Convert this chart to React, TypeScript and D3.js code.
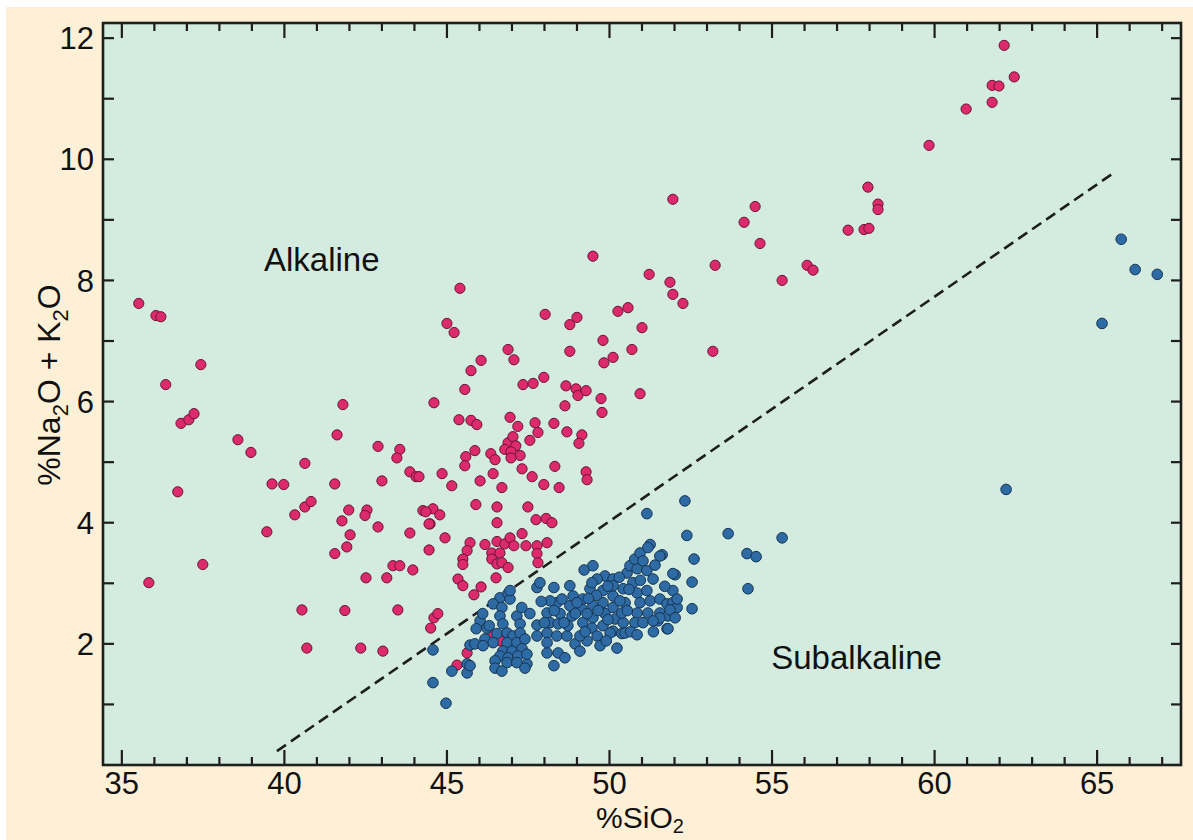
import React, { useRef, useEffect } from 'react';
import * as d3 from 'd3';

// %SiO2 vs %Na2O + K2O
const alkaline: [number, number][] = [
  [62.14, 11.88], [62.45, 11.36], [61.77, 11.22], [61.98, 11.21], [61.77, 10.94], [60.97, 10.83], [59.83, 10.23],
  [51.95, 9.34], [54.48, 9.22], [54.14, 8.96], [54.63, 8.61], [53.25, 8.25], [51.22, 8.1], [51.86, 7.97],
  [51.95, 7.77], [52.26, 7.62], [55.31, 8.0], [56.08, 8.25], [56.26, 8.17], [57.34, 8.83], [57.83, 8.84],
  [57.98, 8.86], [57.95, 9.54], [58.26, 9.26], [58.26, 9.17], [51.0, 7.22], [53.18, 6.83], [50.94, 6.13],
  [49.49, 8.4], [45.4, 7.87], [48.02, 7.44], [48.78, 7.27], [49.0, 7.39], [50.26, 7.49], [50.57, 7.55],
  [45.0, 7.29], [45.22, 7.14], [46.88, 6.86], [47.06, 6.69], [46.05, 6.68], [45.74, 6.51], [48.78, 6.83],
  [49.8, 7.01], [50.11, 6.73], [49.83, 6.64], [50.69, 6.86], [47.34, 6.28], [47.65, 6.3], [47.98, 6.4],
  [48.66, 6.26], [48.97, 6.21], [49.03, 6.1], [49.28, 6.18], [49.74, 6.05], [49.77, 5.82], [48.63, 5.93],
  [44.6, 5.98], [45.55, 6.2], [45.37, 5.7], [45.74, 5.69], [45.92, 5.62], [46.94, 5.74], [47.18, 5.59],
  [47.71, 5.65], [47.8, 5.49], [48.29, 5.64], [48.69, 5.5], [49.15, 5.45], [49.06, 5.31], [47.55, 5.36],
  [46.88, 5.32], [47.03, 5.42], [47.12, 5.27], [46.78, 5.21], [46.97, 5.17], [47.25, 5.11], [46.97, 5.07],
  [45.86, 5.19], [45.58, 5.09], [45.55, 4.94], [46.35, 5.14], [46.48, 5.04], [44.85, 4.81], [43.86, 4.84],
  [44.05, 4.76], [43.55, 5.21], [43.46, 5.07], [43.0, 4.69], [46.02, 4.69], [46.42, 4.81], [47.31, 4.89],
  [47.62, 4.76], [46.69, 4.58], [47.98, 4.63], [48.32, 4.93], [48.45, 4.58], [49.28, 4.84], [49.31, 4.71],
  [45.15, 4.61], [45.89, 4.3], [46.54, 4.26], [47.49, 4.26], [44.26, 4.2], [44.57, 4.23], [44.78, 4.13],
  [44.48, 3.98], [46.54, 4.0], [47.74, 4.05], [48.05, 4.07], [48.23, 4.0], [43.86, 3.83], [44.94, 3.75],
  [47.31, 3.82], [45.71, 3.67], [46.17, 3.64], [46.54, 3.69], [46.78, 3.65], [46.94, 3.75], [47.06, 3.62],
  [47.43, 3.62], [47.77, 3.62], [48.08, 3.67], [44.45, 3.55], [45.62, 3.54], [45.49, 3.4], [45.49, 3.31],
  [46.38, 3.5], [46.63, 3.5], [46.38, 3.4], [46.54, 3.32], [46.69, 3.34], [46.88, 3.26], [47.77, 3.49],
  [47.8, 3.34], [45.34, 3.07], [45.49, 2.96], [46.05, 2.94], [45.83, 2.81], [46.51, 3.09], [44.6, 2.43],
  [44.72, 2.5], [44.5, 2.26], [46.42, 2.15], [46.63, 2.05], [45.62, 1.85], [45.31, 1.65],
  [35.52, 7.62], [36.05, 7.42], [36.2, 7.4], [37.43, 6.61], [36.35, 6.28], [36.82, 5.64], [37.06, 5.7],
  [37.22, 5.8], [38.57, 5.37], [38.97, 5.16], [40.63, 4.98], [39.62, 4.64], [39.98, 4.63], [41.55, 4.64],
  [41.8, 5.95], [41.62, 5.45], [42.88, 5.26], [36.72, 4.51], [40.63, 4.26], [40.82, 4.35], [40.32, 4.13],
  [39.46, 3.85], [41.98, 4.21], [42.54, 4.21], [42.48, 4.12], [41.77, 4.03], [42.02, 3.8], [41.92, 3.6],
  [41.55, 3.49], [42.88, 3.93], [43.34, 3.29], [43.55, 3.29], [42.51, 3.09], [43.15, 3.09], [43.95, 3.22],
  [37.49, 3.31], [35.83, 3.01], [40.54, 2.56], [41.86, 2.55], [43.49, 2.56], [40.69, 1.93], [42.35, 1.93],
  [43.03, 1.88], [44.35, 4.18], [44.45, 3.98], [44.14, 4.76],
];

const subalkaline: [number, number][] = [
  [65.74, 8.68], [66.17, 8.18], [66.85, 8.1], [65.15, 7.29], [62.2, 4.55], [55.31, 3.75], [54.23, 3.49],
  [54.51, 3.44], [54.26, 2.91], [53.65, 3.82], [52.32, 4.36], [51.15, 4.15], [52.38, 3.79], [52.6, 3.4],
  [52.54, 3.02], [52.54, 2.58], [52.02, 3.14], [51.77, 2.25], [51.62, 3.47], [51.25, 3.64], [51.95, 2.88],
  [49.22, 3.22], [49.49, 3.29], [48.29, 2.93], [47.77, 2.93], [47.86, 3.01], [48.78, 2.96], [44.57, 1.9],
  [44.57, 1.36], [44.97, 1.02], [45.15, 1.55], [45.62, 1.52], [45.62, 1.67], [45.71, 1.98], [45.86, 2.0],
  [46.02, 2.38], [46.23, 2.26], [47.77, 2.31], [47.77, 2.13], [48.08, 1.85], [48.42, 1.85], [48.29, 1.64],
  [48.63, 1.77], [47.46, 1.67], [47.09, 1.72], [48.94, 2.0], [49.09, 1.88], [49.31, 2.05],
  [46.63, 2.76], [46.88, 2.83], [46.42, 2.66], [46.69, 2.6], [46.94, 2.74], [46.63, 2.46], [46.72, 2.33],
  [47.15, 2.46], [47.25, 2.33], [46.54, 2.17], [46.17, 2.08], [46.42, 2.02], [46.85, 2.18], [47.03, 2.13],
  [47.25, 2.18], [46.85, 2.02], [47.15, 2.02], [47.4, 2.08], [46.72, 1.88], [47.0, 1.88], [47.31, 1.92],
  [46.63, 1.8], [46.88, 1.77], [47.18, 1.8], [47.46, 1.83], [46.48, 1.72], [46.85, 1.69], [47.15, 1.69],
  [46.48, 1.6], [46.69, 1.55], [47.4, 1.6], [46.11, 1.97], [45.71, 1.64], [46.94, 2.88],
  [48.08, 2.51], [48.17, 2.35], [48.08, 2.18], [48.08, 2.02], [48.38, 2.68], [48.48, 2.5], [48.42, 2.33],
  [48.38, 2.13], [48.69, 2.13], [48.72, 2.3], [48.85, 2.46], [48.78, 2.63], [48.88, 2.79], [49.09, 2.13],
  [49.18, 2.35], [49.15, 2.58], [49.18, 2.74], [49.4, 2.91], [49.49, 2.63], [49.49, 2.43], [49.46, 2.26],
  [49.62, 2.13], [49.8, 2.3], [49.86, 2.5], [49.8, 2.68], [49.8, 2.88], [49.86, 3.12], [50.11, 3.07],
  [50.11, 2.79], [50.11, 2.6], [50.17, 2.41], [50.11, 2.21], [50.38, 2.17], [50.42, 2.35], [50.38, 2.51],
  [50.48, 2.68], [50.42, 2.91], [50.54, 3.17], [50.63, 3.29], [50.85, 3.24], [50.78, 3.4], [50.94, 3.5],
  [51.18, 3.59], [51.03, 3.37], [51.15, 3.21], [51.34, 3.07], [50.72, 3.01], [50.85, 2.84], [50.94, 2.68],
  [50.85, 2.51], [50.78, 2.35], [51.15, 2.88], [51.25, 2.71], [51.18, 2.51], [51.03, 2.35], [51.55, 3.45],
  [51.95, 3.16], [51.55, 2.74], [51.77, 2.66], [51.95, 2.68], [52.08, 2.6], [51.55, 2.51], [51.8, 2.46],
  [51.49, 2.38], [50.23, 1.93], [50.02, 2.18], [49.71, 1.97], [50.48, 2.18], [49.0, 2.68], [49.62, 3.07],
  [50.11, 2.96], [50.32, 2.71], [49.31, 2.5], [48.54, 2.74], [48.17, 2.71], [49.46, 3.01],
  [52.08, 2.74], [51.86, 2.56], [52.02, 2.43], [51.55, 2.43], [51.34, 2.38], [51.8, 2.25],
  [49.6, 2.8], [49.95, 2.95], [50.3, 3.1], [50.6, 2.9], [50.55, 2.55], [50.65, 2.2], [49.95, 2.4],
  [49.65, 2.55], [49.35, 2.75], [48.95, 2.5], [48.6, 2.35], [48.3, 2.55], [48.0, 2.35], [47.9, 2.7],
  [47.55, 2.5], [49.25, 2.2], [49.9, 2.05], [50.85, 2.15], [51.35, 2.2], [51.7, 2.95], [51.4, 3.3],
  [50.95, 3.05], [47.3, 2.6], [46.3, 2.3], [46.1, 2.5], [45.9, 2.25],
];

// dashed divider between the two fields
const divider: [number, number][] = [[39.77, 0.23], [65.55, 9.79]];

const xTicks = [35, 40, 45, 50, 55, 60, 65];
const yTicks = [2, 4, 6, 8, 10, 12];
const regionLabels = [
  { text: 'Alkaline', x: 41.15, y: 8.15 },
  { text: 'Subalkaline', x: 57.6, y: 1.58 },
];

const FONT = '"Liberation Sans", Arial, Helvetica, sans-serif';

const App = () => {
  const svgRef = useRef<SVGSVGElement>(null);

  useEffect(() => {
    if (!svgRef.current) return;
    const svg = d3.select(svgRef.current);
    svg.selectAll('*').remove();

    const left = 103, right = 1181, top = 23, bottom = 765;
    const x = d3.scaleLinear().domain([34.42, 67.58]).range([left, right]);
    const y = d3.scaleLinear().domain([0, 12.25]).range([bottom, top]);

    // backgrounds
    svg.append('rect').attr('x', 6).attr('y', 7).attr('width', 1187).attr('height', 833).attr('fill', '#fdf0d7');
    svg.append('rect')
      .attr('x', left).attr('y', top)
      .attr('width', right - left).attr('height', bottom - top)
      .attr('fill', '#d3ecdf');

    const ink = '#1e1e1e';

    // ticks (inward on all four sides)
    const tickG = svg.append('g').attr('stroke', ink).attr('stroke-width', 2.2);
    d3.range(35, 68, 1).forEach(v => {
      const len = v % 5 === 0 ? 15 : 8;
      tickG.append('line').attr('x1', x(v)).attr('x2', x(v)).attr('y1', bottom).attr('y2', bottom - len);
      tickG.append('line').attr('x1', x(v)).attr('x2', x(v)).attr('y1', top).attr('y2', top + len);
    });
    d3.range(1, 13, 1).forEach(v => {
      tickG.append('line').attr('x1', left).attr('x2', left + 11).attr('y1', y(v)).attr('y2', y(v));
      tickG.append('line').attr('x1', right).attr('x2', right - 10).attr('y1', y(v)).attr('y2', y(v));
    });

    // tick labels
    svg.append('g').selectAll('text').data(xTicks).enter().append('text')
      .attr('x', d => x(d)).attr('y', bottom + 29)
      .attr('text-anchor', 'middle')
      .style('font-family', FONT).style('font-size', '31px').attr('fill', '#111')
      .text(d => d);
    svg.append('g').selectAll('text').data(yTicks).enter().append('text')
      .attr('x', left - 9).attr('y', d => y(d))
      .attr('dy', '0.36em')
      .attr('text-anchor', 'end')
      .style('font-family', FONT).style('font-size', '31px').attr('fill', '#111')
      .text(d => d);

    // divider line
    const line = d3.line<[number, number]>().x(d => x(d[0])).y(d => y(d[1]));
    svg.append('path')
      .datum(divider)
      .attr('fill', 'none')
      .attr('stroke', ink)
      .attr('stroke-width', 2.6)
      .attr('stroke-dasharray', '11,6')
      .attr('d', line);

    // points
    svg.append('g').selectAll('circle').data(alkaline).enter().append('circle')
      .attr('cx', d => x(d[0])).attr('cy', d => y(d[1]))
      .attr('r', 5.1)
      .attr('fill', '#dd2a6c')
      .attr('stroke', '#6b1435').attr('stroke-width', 1);
    svg.append('g').selectAll('circle').data(subalkaline).enter().append('circle')
      .attr('cx', d => x(d[0])).attr('cy', d => y(d[1]))
      .attr('r', 5.3)
      .attr('fill', '#2e6aa3')
      .attr('stroke', '#173553').attr('stroke-width', 1);

    // frame
    svg.append('rect')
      .attr('x', left).attr('y', top)
      .attr('width', right - left).attr('height', bottom - top)
      .attr('fill', 'none').attr('stroke', ink).attr('stroke-width', 2.6);

    // region labels
    svg.append('g').selectAll('text').data(regionLabels).enter().append('text')
      .attr('x', d => x(d.x)).attr('y', d => y(d.y))
      .attr('text-anchor', 'middle')
      .style('font-family', FONT).style('font-size', '33px').attr('fill', '#111')
      .text(d => d.text);

    // axis titles
    const xt = svg.append('text')
      .attr('x', 640).attr('y', 828)
      .attr('text-anchor', 'middle')
      .style('font-family', FONT).style('font-size', '30px').attr('fill', '#111');
    xt.append('tspan').text('%SiO');
    xt.append('tspan').attr('dy', 5).style('font-size', '20px').text('2');

    const yt = svg.append('text')
      .attr('transform', `translate(60,${385}) rotate(-90)`)
      .attr('text-anchor', 'middle')
      .style('font-family', FONT).style('font-size', '32px').attr('fill', '#111');
    yt.append('tspan').text('%Na');
    yt.append('tspan').attr('dy', 8).style('font-size', '22px').text('2');
    yt.append('tspan').attr('dy', -8).text('O + K');
    yt.append('tspan').attr('dy', 8).style('font-size', '22px').text('2');
    yt.append('tspan').attr('dy', -8).text('O');
  }, []);

  return (
    <div style={{ position: 'absolute', left: 0, top: 0, width: 1193, height: 840, background: '#fff' }}>
      <svg ref={svgRef} width={1193} height={840} style={{ display: 'block' }} />
    </div>
  );
};

export default App;
